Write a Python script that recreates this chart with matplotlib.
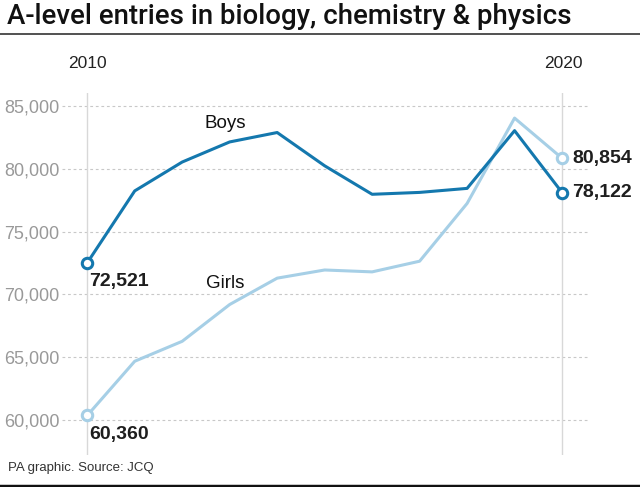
import matplotlib
matplotlib.use("Agg")
import matplotlib.pyplot as plt
from matplotlib.lines import Line2D

plt.rcParams['font.family'] = ['Liberation Sans', 'DejaVu Sans']

years = [2010, 2011, 2012, 2013, 2014, 2015, 2016, 2017, 2018, 2019, 2020]
boys = [72521, 78250, 80550, 82150, 82900, 80250, 77980, 78130, 78450, 83050, 78122]
girls = [60360, 64680, 66270, 69200, 71300, 71950, 71800, 72650, 77250, 84050, 80854]
yticks = [60000, 65000, 70000, 75000, 80000, 85000]

BOYS_C = '#1478ae'
GIRLS_C = '#a6cfe6'

fig = plt.figure(figsize=(6.4, 4.87), dpi=100)
ax = fig.add_axes([0.097, 0.0657, 0.822, 0.743])
ax.set_xlim(2009.47, 2020.55)
ax.set_ylim(57213, 86035)

for t in yticks:
    ax.axhline(t, color='#c8c8c8', lw=0.8, ls=(0, (2.5, 2.5)), zorder=1)
for yr in [years[0], years[-1]]:
    ax.axvline(yr, color='#d8d8d8', lw=1.0, zorder=1)

ax.plot(years, girls, color=GIRLS_C, lw=2.2, zorder=3)
ax.plot(years, boys, color=BOYS_C, lw=2.2, zorder=4)
for s, c in [(girls, GIRLS_C), (boys, BOYS_C)]:
    ax.plot([years[0], years[-1]], [s[0], s[-1]], 'o', ms=7.5, mfc='white',
            mec=c, mew=2.2, zorder=5)

ax.set_yticks(yticks)
ax.set_yticklabels([f'{t:,}' for t in yticks], color='#999999', fontsize=13)
ax.tick_params(axis='y', length=0, pad=2)
ax.set_xticks([])
for sp in ax.spines.values():
    sp.set_visible(False)

lab = dict(fontsize=14, fontweight='bold', color='#1e1e1e', ha='left')
ax.text(years[0] + 0.04, boys[0] - 850, f'{boys[0]:,}', va='top', **lab)
ax.text(years[0] + 0.04, girls[0] - 850, f'{girls[0]:,}', va='top', **lab)
ax.text(years[-1] + 0.22, girls[-1], f'{girls[-1]:,}', va='center', **lab)
ax.text(years[-1] + 0.22, boys[-1], f'{boys[-1]:,}', va='center', **lab)
ax.text(2012.9, 83600, 'Boys', fontsize=13.5, color='#111111', ha='center', va='center')
ax.text(2012.9, 70900, 'Girls', fontsize=13.5, color='#111111', ha='center', va='center')

fig.text(87 / 640, 1 - 63 / 487, '2010', fontsize=12.5, color='#222222', ha='center', va='center')
fig.text(563 / 640, 1 - 63 / 487, '2020', fontsize=12.5, color='#222222', ha='center', va='center')

fig.text(7 / 640, 1 - 16 / 487, 'A-level entries in biology, chemistry & physics',
         fontsize=19.9, family=['Roboto', 'Liberation Sans'], fontweight='medium',
         color='#111111', ha='left', va='center')
fig.add_artist(Line2D([0, 1], [1 - 34 / 487, 1 - 34 / 487], color='#333333', lw=1.2,
                      transform=fig.transFigure))
fig.text(8 / 640, 1 - 468 / 487, 'PA graphic. Source: JCQ', fontsize=9.5,
         color='#333333', ha='left', va='center')
fig.add_artist(Line2D([0, 1], [1 - 485.5 / 487, 1 - 485.5 / 487], color='#111111', lw=2.5,
                      transform=fig.transFigure))

fig.savefig('out.png', dpi=100)
